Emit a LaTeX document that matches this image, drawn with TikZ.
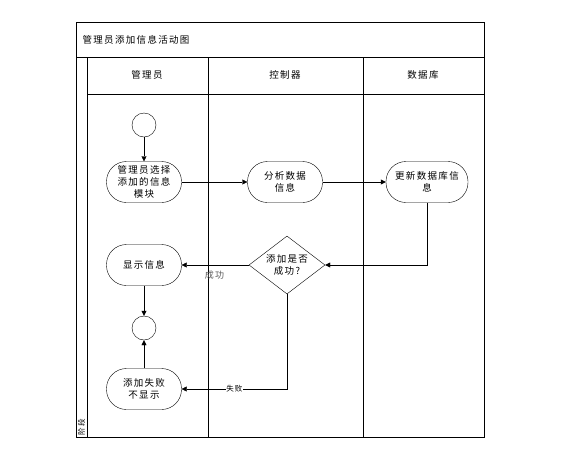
\documentclass[tikz,border=0pt]{standalone}
\usepackage{fontspec}
\setmainfont{Noto Sans CJK SC}[LetterSpace=14]
\usetikzlibrary{positioning, arrows.meta, shapes.geometric}
\definecolor{Line}{RGB}{0, 0, 0}
\definecolor{Soft}{RGB}{90, 90, 90}

\tikzset{
    activity/.style={draw=Line, rounded corners=20pt, minimum width=75pt, minimum height=41pt,
        align=center, font=\fontsize{9.5}{12}\selectfont, inner sep=0pt},
    state/.style={draw=Line, circle, minimum size=24pt, inner sep=0pt},
    decision/.style={draw=Line, diamond, minimum width=76pt, minimum height=58pt, aspect=1.3,
        align=center, font=\fontsize{9.5}{12}\selectfont, inner sep=0pt},
    flow/.style={draw=Line, -{Triangle[length=5pt, width=5pt]}},
    lane/.style={font=\fontsize{9.5}{11}\selectfont}
}

\begin{document}
\begin{tikzpicture}[x=1pt, y=-1pt]
            \useasboundingbox (0,0) rectangle (563,448);
            % Frame and swimlanes
            \draw[Line] (76,22) rectangle (484,437);
            \draw[Line] (76,57) -- (484,57);
            \draw[Line] (87,57) -- (87,437);
            \draw[Line] (87,94) -- (484,94);
            \draw[Line] (208,57) -- (208,437);
            \draw[Line] (363,57) -- (363,437);
            \node[lane, anchor=west] (title) at (79,40) {管理员添加信息活动图};
            \node[lane] (admin) at (147,75) {管理员};
            \node[lane] (ctrl) at (285,75) {控制器};
            \node[lane] (db) at (423,75) {数据库};
            \node[lane, rotate=90, font=\fontsize{7.5}{8}\selectfont, inner sep=0pt] (phase) at (81.5,427) {阶段};

            % Activities
            \node[state] (start) at (144,125) {};
            \node[activity] (choose) at (144,182) {管理员选择\\添加的信息\\模块};
            \node[activity] (analyse) at (285,182) {分析数据\\信息};
            \node[activity, minimum width=82pt] (update) at (427,182) {更新数据库信\\息};
            \node[decision] (check) at (287,265) {添加是否\\成功?};
            \node[activity] (show) at (144,265) {显示信息};
            \node[state] (stop) at (144,328) {};
            \node[activity] (fail) at (144,389) {添加失败\\不显示};

            % Flows
            \draw[flow] (start) -- (choose);
            \draw[flow] (choose) -- (analyse);
            \draw[flow] (analyse) -- (update);
            \draw[flow] (update.south) |- (check.east);
            \draw[flow] (check.west) -- node[below=2pt, pos=0.51, font=\fontsize{9}{10}\selectfont, text=Soft] (ok) {成功} (show.east);
            \draw[flow] (check.south) |- node[pos=0.75, fill=white, inner sep=0.5pt, font=\fontsize{7.5}{9}\selectfont] (ko) {失败} (fail.east);
            \draw[flow] (show) -- (stop);
            \draw[flow] (fail) -- (stop);
        \end{tikzpicture}
\end{document}
